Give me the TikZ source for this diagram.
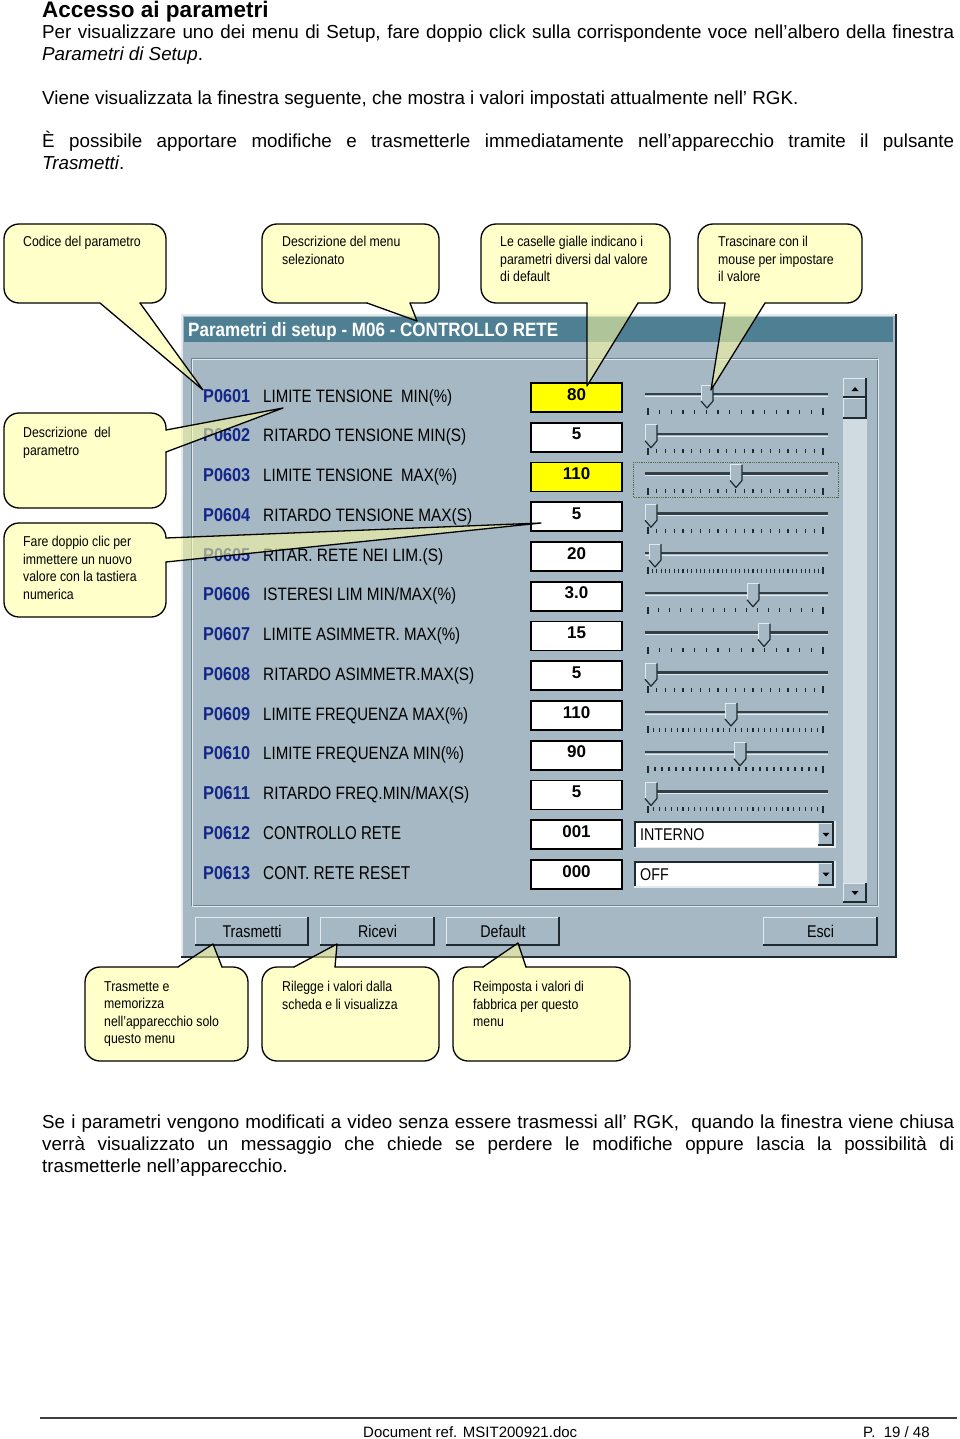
\documentclass[tikz,border=0pt]{standalone}
\usepackage{fontspec}
\setmainfont{Liberation Sans}
\newfontfamily\narrowf[FakeStretch=0.86]{Liberation Sans}
\newfontfamily\winf[FakeStretch=0.84]{Liberation Sans}
\usetikzlibrary{calc}
\definecolor{winbg}{HTML}{A5B8C3}
\definecolor{titlebg}{HTML}{4E7F92}
\definecolor{lightedge}{HTML}{E2EAEF}
\definecolor{darkedge}{HTML}{1E2A31}
\definecolor{midedge}{HTML}{6E848F}
\definecolor{trackbg}{HTML}{CFDAE1}
\definecolor{codeblue}{HTML}{14268A}
\definecolor{calloutfill}{HTML}{FFFFA0}
\definecolor{calloutbody}{HTML}{FFFFCA}
\definecolor{focusc}{HTML}{4C6B45}
\definecolor{yelbox}{HTML}{FFFF00}
\definecolor{footgray}{HTML}{404040}

\tikzset{
  bodytext/.style={anchor=base west, inner sep=0pt, font=\fontsize{18.8}{22}\selectfont},
  calltext/.style={anchor=north west, inner sep=0pt, align=left, font=\narrowf\fontsize{14.3}{17.6}\selectfont},
  cbody/.style={fill=calloutbody, rounded corners=15pt},
  ctail/.style={fill=calloutfill, fill opacity=0.55},
  cline/.style={draw=black, line width=1.3pt, line cap=round, line join=round},
  codetext/.style={anchor=base west, inner sep=0pt, text=codeblue},
  desctext/.style={anchor=base west, inner sep=0pt, text=black, font=\winf},
  valtext/.style={anchor=base, inner sep=0pt, font=\bfseries\fontsize{17}{17}\selectfont},
  valbox/.style={draw=black, line width=1.6pt},
  track/.style={draw=darkedge!85!winbg, line width=2.5pt},
  trackhl/.style={draw=lightedge, line width=1pt},
  tickmark/.style={draw=darkedge, line width=1.1pt},
  btntext/.style={anchor=base, inner sep=0pt, font=\winf\fontsize{17}{17}\selectfont},
  ddtext/.style={anchor=base west, inner sep=0pt, font=\winf\fontsize{17}{17}\selectfont},
}

\newcommand\wbtn[4]{%
  \fill[winbg] (#1,#2) rectangle (#3,#4);
  \draw[lightedge, line width=1.2pt] (#1+0.6,#4) -- (#1+0.6,#2+0.6) -- (#3,#2+0.6);
  \draw[darkedge, line width=1.6pt] (#3-0.8,#2) -- (#3-0.8,#4-0.8) -- (#1,#4-0.8);
}

\newcommand\prow[6]{%
  \pgfmathsetmacro\cy{395+39.75*(#1-1)}
  \node[codetext] (code#1) at (203,\cy+7) {\resizebox{47pt}{13pt}{\bfseries #2}};
  \node[desctext] (desc#1) at (263,\cy+7) {\resizebox{#3pt}{13pt}{#4}};
  \draw[valbox, fill=#6] (531,\cy-12) rectangle (622,\cy+17);
  \node[valtext] (val#1) at (576.5,\cy+5) {#5};
}

\newcommand\pslider[3]{%
  \pgfmathsetmacro\cy{395+39.75*(#1-1)}
  \draw[track] (645,\cy-1) -- (828,\cy-1);
  \draw[trackhl] (645,\cy+1.3) -- (828,\cy+1.3);
  \pgfmathtruncatemacro\nt{#3-1}
  \foreach \k in {0,...,\nt}{\pgfmathsetmacro\tx{648+\k*175/\nt}\draw[tickmark] (\tx,\cy+14.5) -- (\tx,\cy+18.5);}
  \draw[tickmark] (648,\cy+13) -- (648,\cy+20);
  \draw[tickmark] (823,\cy+13) -- (823,\cy+20);
  \fill[winbg] (#2-6,\cy-10) -- (#2+6,\cy-10) -- (#2+6,\cy+6) -- (#2,\cy+13) -- (#2-6,\cy+6) -- cycle;
  \draw[lightedge, line width=1pt] (#2-6,\cy+6) -- (#2-6,\cy-10) -- (#2+6,\cy-10);
  \draw[darkedge, line width=1.2pt, line join=round] (#2+6,\cy-10) -- (#2+6,\cy+6) -- (#2,\cy+13) -- (#2-6,\cy+6);
  \coordinate (thumb#1) at (#2,\cy-1);
}

\newcommand\pdrop[2]{%
  \pgfmathsetmacro\cy{395+39.75*(#1-1)}
  \fill[white] (634,\cy-11) rectangle (835,\cy+15);
  \draw[darkedge, line width=2pt] (635,\cy+15) -- (635,\cy-10) -- (835,\cy-10);
  \draw[lightedge, line width=1.2pt] (835,\cy-11) -- (835,\cy+15) -- (634,\cy+15);
  \wbtn{818}{\cy-9}{833.5}{\cy+13.5}
  \fill[black] (822.5,\cy+0.5) -- (829.5,\cy+0.5) -- (826,\cy+4.5) -- cycle;
  \node[ddtext] (dd#1) at (640,\cy+8) {#2};
}

\begin{document}
\begin{tikzpicture}[x=1pt,y=-1pt]
\useasboundingbox (0,0) rectangle (960,1439);
\fill[white] (0,0) rectangle (960,1439);

% ---------- text above ----------
\node[anchor=base west, inner sep=0pt, font=\bfseries\fontsize{22.5}{26}\selectfont] (head) at (42,18) {Accesso ai parametri};
\node[bodytext] (p1) at (42,39) {\makebox[912pt][s]{Per visualizzare uno dei menu di Setup, fare doppio click sulla corrispondente voce nell’albero della finestra}};
\node[bodytext] (p1b) at (42,61) {\textit{Parametri di Setup}.};
\node[bodytext] (p2) at (42,105) {Viene visualizzata la finestra seguente, che mostra i valori impostati attualmente nell’ RGK.};
\node[bodytext] (p3) at (42,148) {\makebox[912pt][s]{È possibile apportare modifiche e trasmetterle immediatamente nell’apparecchio tramite il pulsante}};
\node[bodytext] (p3b) at (42,170) {\textit{Trasmetti}.};

% ---------- window ----------
\fill[winbg] (181,314) rectangle (897,958);
\draw[lightedge, line width=1.5pt] (181.75,957) -- (181.75,314.75) -- (896,314.75);
\draw[darkedge, line width=2pt] (896,314) -- (896,957) -- (181,957);
\fill[titlebg] (184,317) rectangle (893,342);
\node[anchor=base west, inner sep=0pt, text=white] (title) at (188,336) {\resizebox{370pt}{14pt}{\bfseries Parametri di setup - M06 - CONTROLLO RETE}};

% group panel (etched)
\draw[midedge, line width=1pt] (191,358) rectangle (877,905);
\draw[lightedge, line width=1pt] (192.5,359.5) rectangle (878.5,906.5);

% scrollbar
\fill[trackbg] (843,378) rectangle (867,903);
\wbtn{843}{378}{867}{398}
\fill[black] (851.5,391) -- (858.5,391) -- (855,387) -- cycle;
\wbtn{843}{398}{867}{419}
\wbtn{843}{883}{867}{903}
\fill[black] (851.5,891) -- (858.5,891) -- (855,895) -- cycle;

% rows
\prow{1}{P0601}{189}{LIMITE TENSIONE\ \ MIN(\%)}{80}{yelbox}
\prow{2}{P0602}{203}{RITARDO TENSIONE MIN(S)}{5}{white}
\prow{3}{P0603}{194}{LIMITE TENSIONE\ \ MAX(\%)}{110}{yelbox}
\prow{4}{P0604}{209}{RITARDO TENSIONE MAX(S)}{5}{white}
\prow{5}{P0605}{180}{RITAR. RETE NEI LIM.(S)}{20}{white}
\prow{6}{P0606}{193}{ISTERESI LIM MIN/MAX(\%)}{3.0}{white}
\prow{7}{P0607}{197}{LIMITE ASIMMETR. MAX(\%)}{15}{white}
\prow{8}{P0608}{211}{RITARDO ASIMMETR.MAX(S)}{5}{white}
\prow{9}{P0609}{205}{LIMITE FREQUENZA MAX(\%)}{110}{white}
\prow{10}{P0610}{201}{LIMITE FREQUENZA MIN(\%)}{90}{white}
\prow{11}{P0611}{206}{RITARDO FREQ.MIN/MAX(S)}{5}{white}
\prow{12}{P0612}{138}{CONTROLLO RETE}{001}{white}
\prow{13}{P0613}{147}{CONT. RETE RESET}{000}{white}

% sliders
\pslider{1}{707}{16}
\pslider{2}{651}{21}
\pslider{3}{736}{21}
\pslider{4}{651}{21}
\pslider{5}{655}{41}
\pslider{6}{753}{17}
\pslider{7}{764}{16}
\pslider{8}{651}{21}
\pslider{9}{731}{31}
\pslider{10}{740}{26}
\pslider{11}{651}{31}
\draw[focusc, densely dotted, line width=0.8pt] (633,462) rectangle (838,497);

% dropdowns
\pdrop{12}{INTERNO}
\pdrop{13}{OFF}

% buttons
\wbtn{195}{917}{309}{946}
\node[btntext] (btnT) at (252,937) {Trasmetti};
\wbtn{320}{917}{435}{946}
\node[btntext] (btnR) at (377.5,937) {Ricevi};
\wbtn{446}{917}{560}{946}
\node[btntext] (btnD) at (503,937) {Default};
\wbtn{763}{917}{878}{946}
\node[btntext] (btnE) at (820.5,937) {Esci};

% ---------- callouts ----------
% C1
\coordinate (t1) at (203,390);
\fill[ctail] (t1) -- (100,303) -- (100,298) -- (140,298) -- (140,303) -- cycle;
\fill[cbody] (4,224) rectangle (166,303);
\draw[cline, rounded corners=15pt] (140,303) -- (166,303) -- (166,224) -- (4,224) -- (4,303) -- (100,303);
\draw[cline] (100,303) -- (t1) -- (140,303);
\node[calltext] (c1) at (23,236) {Codice del parametro};
% C2
\coordinate (t2) at (417,321);
\fill[ctail] (t2) -- (367,303) -- (367,298) -- (410,298) -- (410,303) -- cycle;
\fill[cbody] (262,224) rectangle (439,303);
\draw[cline, rounded corners=15pt] (410,303) -- (439,303) -- (439,224) -- (262,224) -- (262,303) -- (367,303);
\draw[cline] (367,303) -- (t2) -- (410,303);
\node[calltext] (c2) at (282,236) {Descrizione del menu\\selezionato};
% C3
\coordinate (t3) at (587,386);
\fill[ctail] (t3) -- (587,303) -- (587,298) -- (638,298) -- (638,303) -- cycle;
\fill[cbody] (481,224) rectangle (670,303);
\draw[cline, rounded corners=15pt] (638,303) -- (670,303) -- (670,224) -- (481,224) -- (481,303) -- (587,303);
\draw[cline] (587,303) -- (t3) -- (638,303);
\node[calltext] (c3) at (500,236) {Le caselle gialle indicano i\\parametri diversi dal valore\\di default};
% C4
\coordinate (t4) at (711,390);
\fill[ctail] (t4) -- (725,303) -- (725,298) -- (765,298) -- (765,303) -- cycle;
\fill[cbody] (698,224) rectangle (862,303);
\draw[cline, rounded corners=15pt] (765,303) -- (862,303) -- (862,224) -- (698,224) -- (698,303) -- (725,303);
\draw[cline] (725,303) -- (t4) -- (765,303);
\node[calltext] (c4) at (718,236) {Trascinare con il\\mouse per impostare\\il valore};
% C5
\coordinate (t5) at (283,408);
\fill[ctail] (t5) -- (166,430) -- (161,430) -- (161,452) -- (166,452) -- cycle;
\fill[cbody] (4,413) rectangle (166,508);
\draw[cline, rounded corners=15pt] (166,452) -- (166,508) -- (4,508) -- (4,413) -- (166,413) -- (166,430);
\draw[cline] (166,430) -- (t5) -- (166,452);
\node[calltext] (c5) at (23,427) {Descrizione\ \ del\\parametro};
% C6
\coordinate (t6) at (541,523);
\fill[ctail] (t6) -- (166,538) -- (161,538) -- (161,562) -- (166,562) -- cycle;
\fill[cbody] (4,523) rectangle (166,617);
\draw[cline, rounded corners=15pt] (166,562) -- (166,617) -- (4,617) -- (4,523) -- (166,523) -- (166,538);
\draw[cline] (166,538) -- (t6) -- (166,562);
\node[calltext] (c6) at (23,536) {Fare doppio clic per\\immettere un nuovo\\valore con la tastiera\\numerica};
% C7
\coordinate (t7) at (213,944);
\fill[ctail] (t7) -- (178,967) -- (178,972) -- (222,972) -- (222,967) -- cycle;
\fill[cbody] (85,967) rectangle (248,1061);
\draw[cline, rounded corners=15pt] (222,967) -- (248,967) -- (248,1061) -- (85,1061) -- (85,967) -- (178,967);
\draw[cline] (178,967) -- (t7) -- (222,967);
\node[calltext] (c7) at (104,981) {Trasmette e\\memorizza\\nell’apparecchio solo\\questo menu};
% C8
\coordinate (t8) at (337,944);
\fill[ctail] (t8) -- (294,967) -- (294,972) -- (335,972) -- (335,967) -- cycle;
\fill[cbody] (262,967) rectangle (439,1061);
\draw[cline, rounded corners=15pt] (335,967) -- (439,967) -- (439,1061) -- (262,1061) -- (262,967) -- (294,967);
\draw[cline] (294,967) -- (t8) -- (335,967);
\node[calltext] (c8) at (282,981) {Rilegge i valori dalla\\scheda e li visualizza};
% C9
\coordinate (t9) at (518,943);
\fill[ctail] (t9) -- (483,967) -- (483,972) -- (526,972) -- (526,967) -- cycle;
\fill[cbody] (453,967) rectangle (630,1061);
\draw[cline, rounded corners=15pt] (526,967) -- (630,967) -- (630,1061) -- (453,1061) -- (453,967) -- (483,967);
\draw[cline] (483,967) -- (t9) -- (526,967);
\node[calltext] (c9) at (473,981) {Reimposta i valori di\\fabbrica per questo\\menu};

% ---------- text below ----------
\node[bodytext] (q1) at (42,1128) {\makebox[912pt][s]{Se i parametri vengono modificati a video senza essere trasmessi all’ RGK,\ \ quando la finestra viene chiusa}};
\node[bodytext] (q2) at (42,1150) {\makebox[912pt][s]{verrà visualizzato un messaggio che chiede se perdere le modifiche oppure lascia la possibilità di}};
\node[bodytext] (q3) at (42,1172) {trasmetterle nell’apparecchio.};

% ---------- footer ----------
\draw[footgray, line width=1.5pt] (40,1418) -- (957,1418);
\node[anchor=base west, inner sep=0pt, font=\fontsize{15}{17}\selectfont] (docref) at (363,1437) {Document ref. MSIT200921.doc};
\node[anchor=base west, inner sep=0pt, font=\fontsize{15}{17}\selectfont] (page) at (863,1437) {P.\ \ 19 / 48};
\end{tikzpicture}
\end{document}
